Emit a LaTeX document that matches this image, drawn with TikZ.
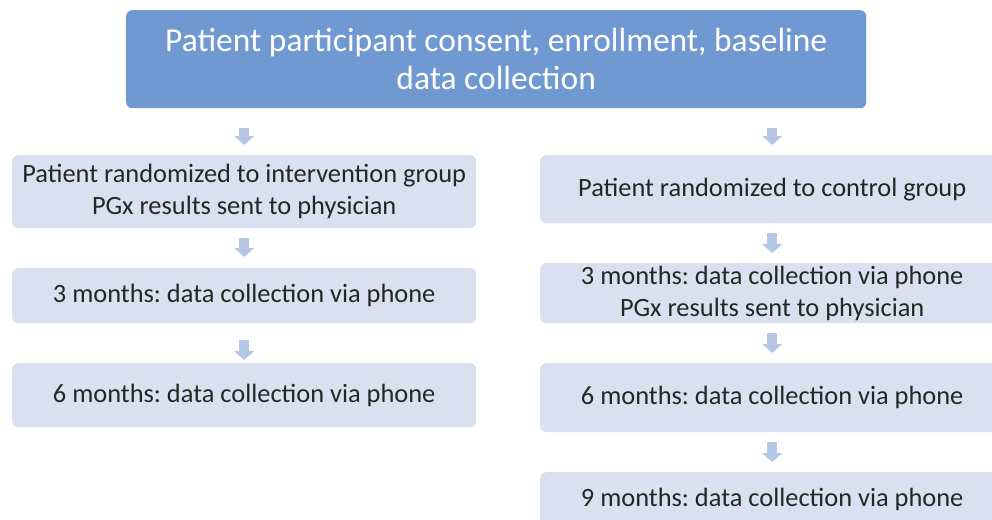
\documentclass[tikz,border=0pt]{standalone}
\usepackage{fontspec}
\setmainfont{Carlito}
\frenchspacing
\usetikzlibrary{arrows.meta}
\definecolor{topblue}{RGB}{112,153,210}
\definecolor{boxblue}{RGB}{217,224,240}
\definecolor{arrowblue}{RGB}{180,199,231}
\definecolor{textgray}{RGB}{38,38,38}

\begin{document}
\begin{tikzpicture}[%
      x=1pt, y=-1pt,
      topbox/.style={fill=topblue, rounded corners=6pt, anchor=north west,
        minimum width=740pt, minimum height=98pt, inner sep=0pt,
        text=white, align=center, font=\fontsize{33.5}{38}\selectfont},
      stagebox/.style={fill=boxblue, rounded corners=6pt, anchor=north west,
        minimum width=464pt, inner sep=0pt,
        text=textgray, align=center, font=\fontsize{26.4}{32}\selectfont},
      blockarrow/.style={draw=arrowblue, line width=10pt,
        -{Triangle[width=20pt,length=9pt]}, shorten <=10pt, shorten >=10pt},
      ]
      \useasboundingbox (0,0) rectangle (992,519);
      \clip (0,0) rectangle (992,519);

      \node[topbox] (consent) at (126,10) {Patient participant consent, enrollment, baseline\\data collection};

      % intervention group
      \node[stagebox, minimum height=73pt] (int0) at (12,155) {Patient randomized to intervention group\\PGx results sent to physician};
      \node[stagebox, minimum height=55pt] (int3) at (12,268) {3 months: data collection via phone};
      \node[stagebox, minimum height=64pt] (int6) at (12,363) {6 months: data collection via phone};

      % control group
      \node[stagebox, minimum height=68pt] (con0) at (540,155) {Patient randomized to control group};
      \node[stagebox, minimum height=60pt] (con3) at (540,263) {3 months: data collection via phone\\PGx results sent to physician};
      \node[stagebox, minimum height=69pt] (con6) at (540,363) {6 months: data collection via phone};
      \node[stagebox, minimum height=54pt] (con9) at (540,472) {9 months: data collection via phone};

      \draw[blockarrow, shorten <=20pt] (consent.south -| int0.north) -- (int0.north);
      \draw[blockarrow, shorten >=11pt] (int0.south) -- (int3.north);
      \draw[blockarrow, shorten <=17pt, shorten >=3pt] (int3.south) -- (int6.north);

      \draw[blockarrow, shorten <=20pt] (consent.south -| con0.north) -- (con0.north);
      \draw[blockarrow] (con0.south) -- (con3.north);
      \draw[blockarrow] (con3.south) -- (con6.north);
      \draw[blockarrow] (con6.south) -- (con9.north);
\end{tikzpicture}
\end{document}
